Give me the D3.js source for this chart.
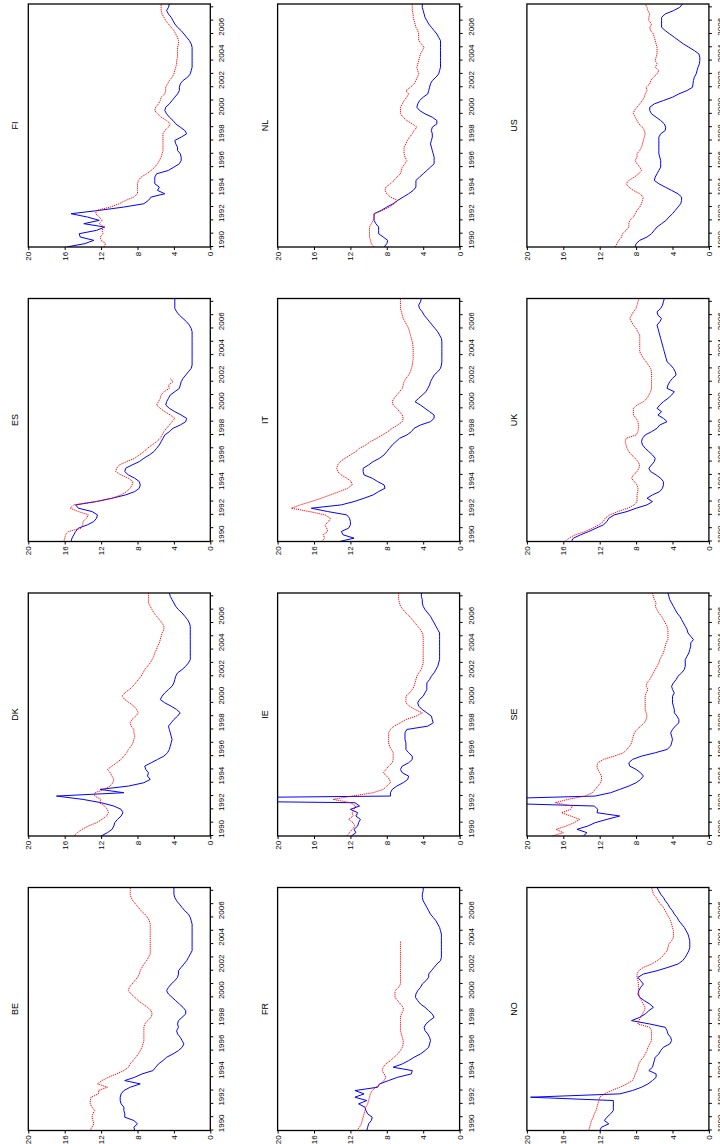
<!DOCTYPE html>
<html><head><meta charset="utf-8">
<script src="https://cdn.jsdelivr.net/npm/d3@7"></script>
<style>html,body{margin:0;padding:0;background:#fff;} svg{display:block;}</style>
</head><body>
<svg id="chart" width="720" height="1144"></svg>
<script>
// ---------- data ----------
const countries = ["BE","DK","ES","FI","FR","IE","IT","NL","NO","SE","UK","US"];
const startYear = 1990;            // first observation, quarterly data
const valueTicks = [0, 4, 8, 12, 16, 20];
const yearTicks = [1990,1991,1992,1993,1994,1995,1996,1997,1998,1999,2000,2001,2002,2003,2004,2005,2006,2007,2008];
const yearLabels = [1990,1992,1994,1996,1998,2000,2002,2004,2006];

const BE_blue = [8.3,8.4,8.0,8.4, 9.4,9.4,9.5,9.5, 9.8,9.9,9.9,9.8, 9.5,8.8,7.7,9.4, 8.3,7.5,6.3,6.0, 5.7,5.2,4.8,4.1, 3.5,3.1,2.9,3.1, 3.3,3.6,3.7,3.5, 3.6,3.5,3.1,2.7, 2.7,3.0,3.4,3.8, 4.2,4.6,4.8,4.6, 4.3,3.9,3.6,3.5, 3.5,3.2,2.9,2.6, 2.4,2.2,2.0,2.0, 2.0,2.0,2.0,2.0, 2.0,2.0,2.0,2.1, 2.2,2.4,2.8,3.1, 3.4,3.7,3.9,4.0, 4.0,4.0];
const BE_red  = [13.2,13.0,12.8,12.9, 13.0,12.9,12.7,13.0, 13.2,13.2,13.1,12.3, 12.3,11.3,12.4,11.9, 11.2,10.3,9.5,9.0, 8.8,8.5,8.2,7.9, 7.7,7.5,7.4,7.3, 7.3,7.3,7.3,7.3, 7.2,6.9,6.5,6.4, 6.5,6.9,7.4,7.9, 8.3,8.7,9.0,8.9, 8.6,8.3,8.0,7.8, 7.7,7.5,7.3,7.0, 6.8,6.6,6.6,6.6, 6.6,6.6,6.6,6.6, 6.6,6.6,6.6,6.7, 6.9,7.2,7.6,7.9, 8.2,8.5,8.7,8.8, 8.8,8.8];
const DK_blue = [12.0,11.3,10.8,10.6, 10.5,10.2,9.8,9.6, 9.8,10.6,12.0,14.0, 16.9,9.5,12.1,9.0, 7.3,6.6,6.9,6.8, 7.1,7.2,6.5,5.8, 5.1,4.7,4.5,4.4, 4.3,4.2,4.3,4.4, 4.5,4.6,4.3,4.0, 3.6,3.3,3.7,4.3, 5.0,5.5,5.3,5.0, 4.6,4.2,4.0,3.9, 3.8,3.6,3.1,2.7, 2.4,2.2,2.2,2.2, 2.2,2.2,2.2,2.2, 2.2,2.2,2.2,2.2, 2.3,2.5,2.8,3.1, 3.5,3.8,4.0,4.2, 4.4,4.5];
const DK_red  = [15.0,14.6,14.1,13.4, 12.5,11.9,11.4,11.2, 11.3,11.6,12.2,12.0, 12.7,12.7,11.6,11.0, 10.7,10.6,10.8,11.0, 11.3,10.8,10.3,9.8, 9.5,9.2,9.0,8.7, 8.5,8.4,8.3,8.4, 8.4,8.7,8.8,8.6, 8.2,7.9,8.1,8.4, 8.9,9.4,9.7,9.4, 8.9,8.5,8.2,7.9, 7.6,7.4,7.2,6.9, 6.6,6.4,6.2,6.1, 5.9,5.8,5.6,5.5, 5.4,5.3,5.1,5.1, 5.3,5.6,5.9,6.2, 6.4,6.6,6.8,6.8, 6.8,6.8];
const ES_blue = [15.3,15.2,15.0,14.8, 14.5,13.5,12.8,12.5, 12.4,13.0,14.5,14.8, 12.5,10.8,9.3,8.3, 7.8,7.7,7.8,8.3, 9.0,9.4,9.3,8.6, 7.8,7.3,6.7,6.2, 5.9,5.6,5.4,5.2, 5.0,4.5,4.1,3.3, 2.7,2.6,3.2,3.9, 4.5,4.9,4.8,4.6, 4.4,3.9,3.4,3.3, 3.2,3.0,2.7,2.4, 2.1,2.0,2.0,2.0, 2.0,2.0,2.0,2.0, 2.0,2.0,2.0,2.0, 2.1,2.3,2.6,3.0, 3.4,3.7,3.9,3.9, 3.9,3.9];
const ES_red  = [16.1,16.0,15.9,15.6, 14.2,14.0,14.0,13.6, 13.4,14.5,15.4,15.0, 12.6,10.8,9.8,9.2, 8.8,8.6,8.5,9.0, 9.8,10.4,10.3,10.0, 9.2,8.3,7.8,7.3, 6.9,6.4,5.9,5.5, 5.3,5.1,4.8,4.5, 4.2,3.9,4.4,5.0, 5.5,5.9,5.7,5.5, 5.4,5.1,4.5,4.6, 4.1,4.4,null,null, null,null,null,null, null,null,null,null, null,null,null,null, null,null,null,null, null,null,null,null, null,null];
const FI_blue = [15.8,13.8,12.8,14.3, 14.4,12.5,11.6,13.9, 12.2,13.5,15.3,12.2, 9.5,7.3,6.8,6.5, 5.0,5.8,5.6,6.1, 6.1,6.1,5.9,4.6, 4.0,3.4,3.2,3.2, 3.3,3.6,3.6,3.8, 3.9,3.2,2.6,2.8, 3.3,3.8,4.1,4.5, 4.8,5.0,4.9,4.5, 4.2,3.9,3.6,3.4, 3.4,3.3,3.0,2.5, 2.2,2.1,2.0,2.0, 2.0,2.0,2.0,2.0, 2.0,2.1,2.3,2.6, 2.9,3.2,3.6,3.9, 4.1,4.3,4.6,4.8, 4.6,4.5];
const FI_red  = [11.7,11.5,12.0,12.1, 11.8,11.9,11.7,12.2, 11.9,12.2,12.6,12.5, 11.0,10.0,9.3,8.4, 8.0,8.0,8.0,8.0, 7.9,7.6,7.0,6.5, 6.1,5.8,5.6,5.4, 5.3,5.2,5.2,5.2, 5.2,5.2,5.2,5.0, 4.6,4.4,4.8,5.4, 5.8,6.1,6.0,5.7, 5.5,5.4,5.0,4.9, 4.9,4.7,4.5,4.2, 4.0,3.9,3.8,3.7, 3.7,3.6,3.6,3.6, 3.6,3.5,3.5,3.6, 3.8,4.0,4.3,4.6, 4.9,5.1,5.3,5.4, 5.4,5.4];
const FR_blue = [10.2,10.1,10.0,9.7, 9.6,10.1,10.3,10.4, 11.1,10.2,11.5,10.5, 11.5,9.0,8.8,7.8, 6.8,5.3,5.2,7.3, 6.3,5.6,5.0,4.3, 3.8,3.4,3.3,3.2, 3.3,3.5,3.8,3.9, 3.7,3.3,2.8,3.0, 3.4,3.8,4.3,4.6, 4.85,4.8,4.6,4.3, 4.1,3.7,3.4,3.4, 3.1,2.8,2.5,2.1, 2.0,2.0,2.0,2.0, 2.0,2.0,2.0,2.0, 2.1,2.2,2.4,2.6, 2.9,3.2,3.4,3.6, 3.8,4.0,4.1,4.1, 4.0,4.0];
const FR_red  = [11.3,11.0,10.8,10.7, 10.6,10.5,10.4,10.3, 10.1,10.0,9.9,9.8, 9.6,9.2,8.7,8.3, 8.1,8.3,8.5,8.4, 8.1,7.6,7.2,6.8, 6.5,6.3,6.2,6.2, 6.3,6.4,6.5,6.5, 6.5,6.5,6.5,6.4, 6.2,6.2,6.5,6.8, 7.1,7.1,7.1,6.7, 6.5,6.5,6.5,6.5, 6.5,6.5,6.5,6.5, 6.5,6.5,6.5,6.5, 6.5,6.5,null,null, null,null,null,null, null,null,null,null, null,null,null,null, null,null];
const IE_blue = [11.9,11.4,11.6,11.2, 11.1,10.9,11.4,11.2, 12.0,11.0,11.5,45.0, 7.6,7.6,7.4,6.9, 6.2,5.7,5.6,6.3, 6.5,6.3,5.6,5.2, 5.2,5.6,5.9,5.9, 5.9,6.0,6.0,6.0, 5.8,3.5,2.9,3.0, 3.1,3.6,4.1,4.5, 4.6,4.4,4.0,3.8, 3.6,3.6,3.6,3.3, 3.1,2.8,2.6,2.4, 2.3,2.2,2.2,2.2, 2.2,2.2,2.2,2.2, 2.2,2.2,2.4,2.6, 2.8,3.0,3.2,3.5, 3.8,4.0,4.1,4.1, 4.2,4.2];
const IE_red  = [12.4,12.1,11.8,11.5, 11.7,12.2,11.7,11.8, 11.6,11.4,12.0,13.9, 11.8,9.5,8.4,8.0, 7.6,7.7,8.0,8.4, 8.1,7.8,7.4,7.3, 7.3,7.3,7.5,7.7, 7.8,7.8,7.8,7.8, 7.6,7.2,6.5,5.9, 4.8,4.1,4.9,5.5, 5.9,5.9,5.9,5.5, 5.2,5.0,4.9,4.8, 4.7,4.5,4.2,4.1, 4.0,4.0,4.0,4.0, 4.0,4.0,4.0,4.0, 4.0,4.1,4.3,4.6, 4.9,5.2,5.5,5.9, 6.2,6.5,6.6,6.7, 6.7,6.7];
const IT_blue = [13.2,11.6,12.8,13.0, 12.2,12.0,12.0,12.1, 12.4,14.5,16.3,13.0, 11.6,10.5,9.5,8.9, 8.2,8.3,9.0,9.6, 10.5,10.6,10.6,10.0, 9.5,8.8,8.3,8.0, 7.7,7.4,7.0,6.6, 5.8,5.3,5.0,4.3, 3.2,2.8,2.8,3.3, 3.8,4.3,4.9,4.5, 4.1,3.7,3.5,3.3, 3.2,3.0,2.8,2.4, 2.1,2.0,1.95,1.95, 1.95,1.95,1.95,1.95, 1.95,2.0,2.2,2.4, 2.7,3.0,3.3,3.6, 3.9,4.1,4.4,4.5, 4.3,4.2];
const IT_red  = [15.2,14.8,15.0,14.5, 14.6,14.8,14.4,14.2, 14.8,16.5,18.5,17.5, 16.3,15.2,14.2,13.2, 12.3,11.8,11.9,12.4, 13.0,13.4,13.5,13.4, 13.1,12.6,12.0,11.4, 11.0,10.3,9.8,9.1, 8.5,7.9,7.4,6.8, 6.3,6.2,6.3,6.6, 6.9,7.3,7.4,7.2, 6.9,6.6,6.3,6.2, 6.1,5.9,5.6,5.4, 5.3,5.2,5.15,5.1, 5.1,5.1,5.1,5.15, 5.2,5.3,5.4,5.5, 5.6,5.8,6.0,6.2, 6.3,6.4,6.5,6.5, 6.5,6.5];
const NL_blue = [8.3,8.0,7.9,8.4, 8.9,8.9,8.9,9.2, 9.4,9.4,9.4,8.6, 8.0,7.3,6.8,6.2, 5.6,5.1,4.8,4.8, 4.8,4.4,4.0,3.6, 3.2,2.8,2.8,2.8, 2.9,3.0,3.1,3.2, 3.1,3.0,3.0,3.1, 3.0,2.5,2.5,3.0, 3.8,4.4,4.7,4.6, 4.4,4.0,3.5,3.4, 3.3,3.2,3.0,2.6, 2.3,2.2,2.1,2.1, 2.1,2.1,2.1,2.1, 2.1,2.1,2.1,2.3, 2.5,2.8,3.1,3.4, 3.6,3.8,3.9,4.0, 4.1,4.1];
const NL_red  = [9.4,9.7,9.8,9.9, 9.9,9.9,9.9,9.7, 9.5,9.4,9.4,8.5, 7.7,7.2,6.8,7.6, 8.0,8.2,8.1,7.6, 7.2,6.9,6.5,6.4, 6.3,6.0,5.8,6.0, 6.1,6.1,6.1,5.9, 5.75,5.5,5.2,5.0, 4.7,5.2,5.8,6.2, 6.5,6.5,6.5,6.3, 6.1,5.8,5.6,5.9, 5.4,5.0,4.8,4.65, 4.5,4.6,4.7,4.6, 4.5,4.4,4.3,4.1, 3.9,4.2,4.5,4.5, 4.5,4.6,4.8,4.9, 5.0,5.1,5.1,5.2, 5.2,5.2];
const NO_blue = [12.0,11.8,11.0,11.5, 11.2,10.8,10.5,10.5, 10.5,10.5,19.6,9.8, 8.4,7.4,6.7,6.2, 5.8,5.8,6.6,6.2, 6.1,6.0,5.9,5.5, 5.3,5.0,4.3,4.1, 4.2,4.5,4.6,4.8, 6.5,8.5,7.6,7.0, 6.6,6.1,6.5,7.1, 7.6,7.8,7.7,7.5, 7.2,7.5,7.8,7.2, 5.7,4.5,3.4,2.9, 2.6,2.4,2.2,2.1, 2.1,2.1,2.2,2.3, 2.5,2.7,3.0,3.3, 3.5,3.8,4.0,4.3, 4.5,4.8,5.0,5.3, 5.5,5.7];
const NO_red  = [13.2,13.1,13.0,12.9, 12.7,12.6,12.4,12.3, 12.2,12.1,12.0,11.5, 10.7,9.8,9.0,8.4, 8.2,8.1,7.9,7.8, 7.7,7.5,7.2,7.0, 6.8,6.7,6.5,6.3, 6.3,6.3,6.3,6.5, 7.8,7.7,7.5,7.3, 7.1,7.0,7.2,7.4, 7.6,7.7,7.75,7.75, 7.75,7.8,7.9,7.9, 7.7,7.2,6.3,5.7, 5.2,4.9,4.6,4.5, 4.4,4.1,3.9,3.9, 3.9,4.0,4.1,4.2, 4.4,4.6,4.8,5.0, 5.3,5.6,5.8,6.1, 6.2,6.3];
const SE_blue = [13.8,13.4,14.5,13.3, 12.5,11.2,9.8,12.3, 12.2,12.6,25.0,26.0, 12.5,10.8,9.8,8.8, 8.0,7.5,7.2,7.5, 8.0,8.7,8.8,8.4, 7.4,5.9,4.6,4.2, 4.1,4.0,4.1,4.2, 4.0,3.7,3.3,3.3, 3.5,3.8,3.8,3.9, 4.0,4.0,4.0,3.8, 4.0,4.1,3.9,3.6, 3.4,3.0,2.7,2.6, 2.6,2.6,2.4,2.2, 2.1,2.0,2.0,1.7, 2.0,2.3,2.4,2.6, 2.8,3.0,3.2,3.5, 3.7,3.9,4.1,4.3, 4.4,4.5];
const SE_red  = [17.2,16.0,16.8,15.7, 14.8,14.2,15.2,16.2, 15.2,15.0,16.9,15.5, 13.6,12.8,12.5,12.2, 11.9,11.8,11.8,12.0, 12.2,12.3,12.2,11.6, 10.4,9.4,9.0,8.7, 8.5,8.4,8.3,8.2, 7.9,7.5,7.1,6.9, 6.8,6.9,7.0,7.0, 7.0,7.0,7.0,6.9, 6.7,6.9,6.8,6.5, 6.3,6.1,5.9,5.7, 5.5,5.4,5.2,5.0, 4.9,4.8,4.7,4.5, 4.5,4.5,4.5,4.6, 4.8,5.0,5.2,5.5, 5.7,5.9,5.8,6.0, 6.1,6.2];
const UK_blue = [15.1,14.9,14.1,13.2, 12.4,11.6,11.2,11.0, 10.4,9.0,8.0,6.8, 6.2,6.8,6.2,5.4, 5.1,5.0,5.0,5.3, 5.8,6.4,6.6,6.3, 6.0,5.9,6.2,6.6, 7.0,7.3,7.4,7.3, 7.0,6.3,5.7,5.4, 4.6,5.0,5.6,5.2, 5.7,5.4,5.0,4.5, 4.1,3.8,4.6,4.5, 4.3,4.0,3.6,3.7, 3.9,4.2,4.6,4.7, 4.8,4.9,5.0,5.1, 5.2,5.3,5.4,5.5, 5.6,5.7,5.4,5.2, 5.6,5.7,5.3,5.1, 5.0,4.9];
const UK_red  = [15.8,15.4,14.7,13.6, 12.8,12.1,11.6,11.4, 10.9,10.0,8.9,8.2, 7.9,7.9,7.9,7.8, 7.8,7.9,8.2,8.5, 8.3,7.9,7.7,7.6, 7.8,8.1,8.5,8.8, 9.0,9.1,9.2,9.1, 8.0,7.8,7.75,7.75, 7.8,8.0,8.3,8.3, 8.3,7.9,7.2,6.8, 6.6,6.4,6.3,6.3, 6.3,6.3,6.3,6.3, 6.4,6.65,6.9,7.2, 7.4,7.6,7.6,7.6, 7.6,7.6,7.6,7.8, 8.0,8.3,8.5,8.7, 8.5,8.3,8.0,7.9, 7.8,7.7];
const US_blue = [8.1,8.0,7.6,6.8, 6.3,6.0,5.7,5.2, 4.7,4.4,4.0,3.7, 3.4,3.1,3.0,3.0, 3.4,4.1,4.8,5.5, 6.0,5.9,5.7,5.5, 5.3,5.3,5.3,5.4, 5.5,5.5,5.5,5.5, 5.5,5.5,5.3,4.8, 4.75,4.9,5.3,5.8, 6.3,6.5,6.5,6.0, 5.0,4.0,3.3,2.4, 1.8,1.75,1.7,1.6, 1.4,1.3,1.2,1.05, 1.0,1.0,1.1,1.6, 2.2,2.8,3.3,3.8, 4.3,4.8,5.2,5.2, 5.2,5.2,4.8,3.9, 3.2,2.9];
const US_red  = [10.3,10.1,9.9,9.6, 9.5,9.1,8.8,8.8, 8.7,8.3,8.1,7.9, 7.6,7.4,7.3,7.2, 7.6,8.3,8.8,9.1, 8.8,8.2,7.7,7.4, 7.6,7.9,8.1,7.9, 7.9,7.6,7.4,7.3, 7.2,7.1,7.0,7.1, 7.3,7.7,7.9,8.1, 8.3,8.2,7.9,7.6, 7.3,7.1,7.0,6.8, 6.9,6.5,6.4,6.1, 5.7,5.5,5.9,5.7, 5.9,5.8,5.7,5.7, 5.7,5.8,5.9,6.0, 6.1,6.4,6.5,6.3, 6.6,6.6,6.5,6.7, 6.8,7.0];

const seriesByCountry = {
  BE:[BE_blue,BE_red], DK:[DK_blue,DK_red], ES:[ES_blue,ES_red], FI:[FI_blue,FI_red],
  FR:[FR_blue,FR_red], IE:[IE_blue,IE_red], IT:[IT_blue,IT_red], NL:[NL_blue,NL_red],
  NO:[NO_blue,NO_red], SE:[SE_blue,SE_red], UK:[UK_blue,UK_red], US:[US_blue,US_red]
};

// ---------- drawing ----------
const FONT = "'Liberation Sans', Arial, Helvetica, sans-serif";
const svg = d3.select("#chart");
svg.append("rect").attr("width",720).attr("height",1144).attr("fill","#fff");
// the figure is a landscape 4x3 grid turned a quarter-turn counter-clockwise
const root = svg.append("g").attr("transform","translate(0,1144) rotate(-90)");

const panelW = 243, panelH = 182;
const originX = 13.5, stepX = 294.5, originY = 28.3, stepY = 249.3;

const x = d3.scaleLinear().domain([1990, 2008.25]).range([0, panelW]);
const y = d3.scaleLinear().domain([0, 20]).range([panelH, 0]);
const timeOf = i => startYear + i / 4;

const line = d3.line()
  .defined(d => d != null)
  .x((d, i) => x(timeOf(i)))
  .y(d => y(d));

countries.forEach((c, k) => {
  const col = k % 4, row = Math.floor(k / 4);
  const g = root.append("g")
    .attr("transform", `translate(${originX + col*stepX},${originY + row*stepY})`);

  const clipId = "clip-" + c;
  g.append("clipPath").attr("id", clipId)
    .append("rect").attr("width", panelW).attr("height", panelH);

  const [blue, red] = seriesByCountry[c];
  const plot = g.append("g").attr("clip-path", `url(#${clipId})`);
  plot.append("path").datum(blue)
    .attr("d", line).attr("fill","none")
    .attr("stroke","#0000ff").attr("stroke-width",1).attr("stroke-linejoin","round");
  plot.append("path").datum(red)
    .attr("d", line).attr("fill","none")
    .attr("stroke","#ff0000").attr("stroke-width",1).attr("stroke-dasharray","1.2,0.9");

  // frame
  g.append("rect").attr("width", panelW).attr("height", panelH)
    .attr("fill","none").attr("stroke","#000").attr("stroke-width",1.3);

  // value axis (left)
  const ya = g.append("g").call(d3.axisLeft(y).tickValues(valueTicks).tickSize(3).tickPadding(1.8).tickFormat(d3.format("d")));
  ya.select(".domain").remove();
  ya.selectAll("text").attr("font-family", FONT).attr("font-size", 8).attr("fill","#000");
  ya.selectAll("line").attr("stroke","#000");

  // year axis ticks (bottom)
  const xa = g.append("g").attr("transform", `translate(0,${panelH})`)
    .call(d3.axisBottom(x).tickValues(yearTicks).tickSize(3).tickFormat(""));
  xa.select(".domain").remove();
  xa.selectAll("line").attr("stroke","#000");

  // year labels centred in each labelled year
  const xl = g.append("g").attr("transform", `translate(0,${panelH})`)
    .call(d3.axisBottom(x).tickValues(yearLabels.map(v => v + 0.5)).tickSize(0).tickPadding(8.5)
      .tickFormat(v => String(Math.floor(v))));
  xl.select(".domain").remove();
  xl.selectAll("text").attr("font-family", FONT).attr("font-size", 8).attr("fill","#000");

  // title
  g.append("text").attr("x", panelW/2).attr("y", -10)
    .attr("text-anchor","middle").attr("font-family", FONT).attr("font-size", 9).attr("fill","#000")
    .text(c);
});
</script>
</body></html>
